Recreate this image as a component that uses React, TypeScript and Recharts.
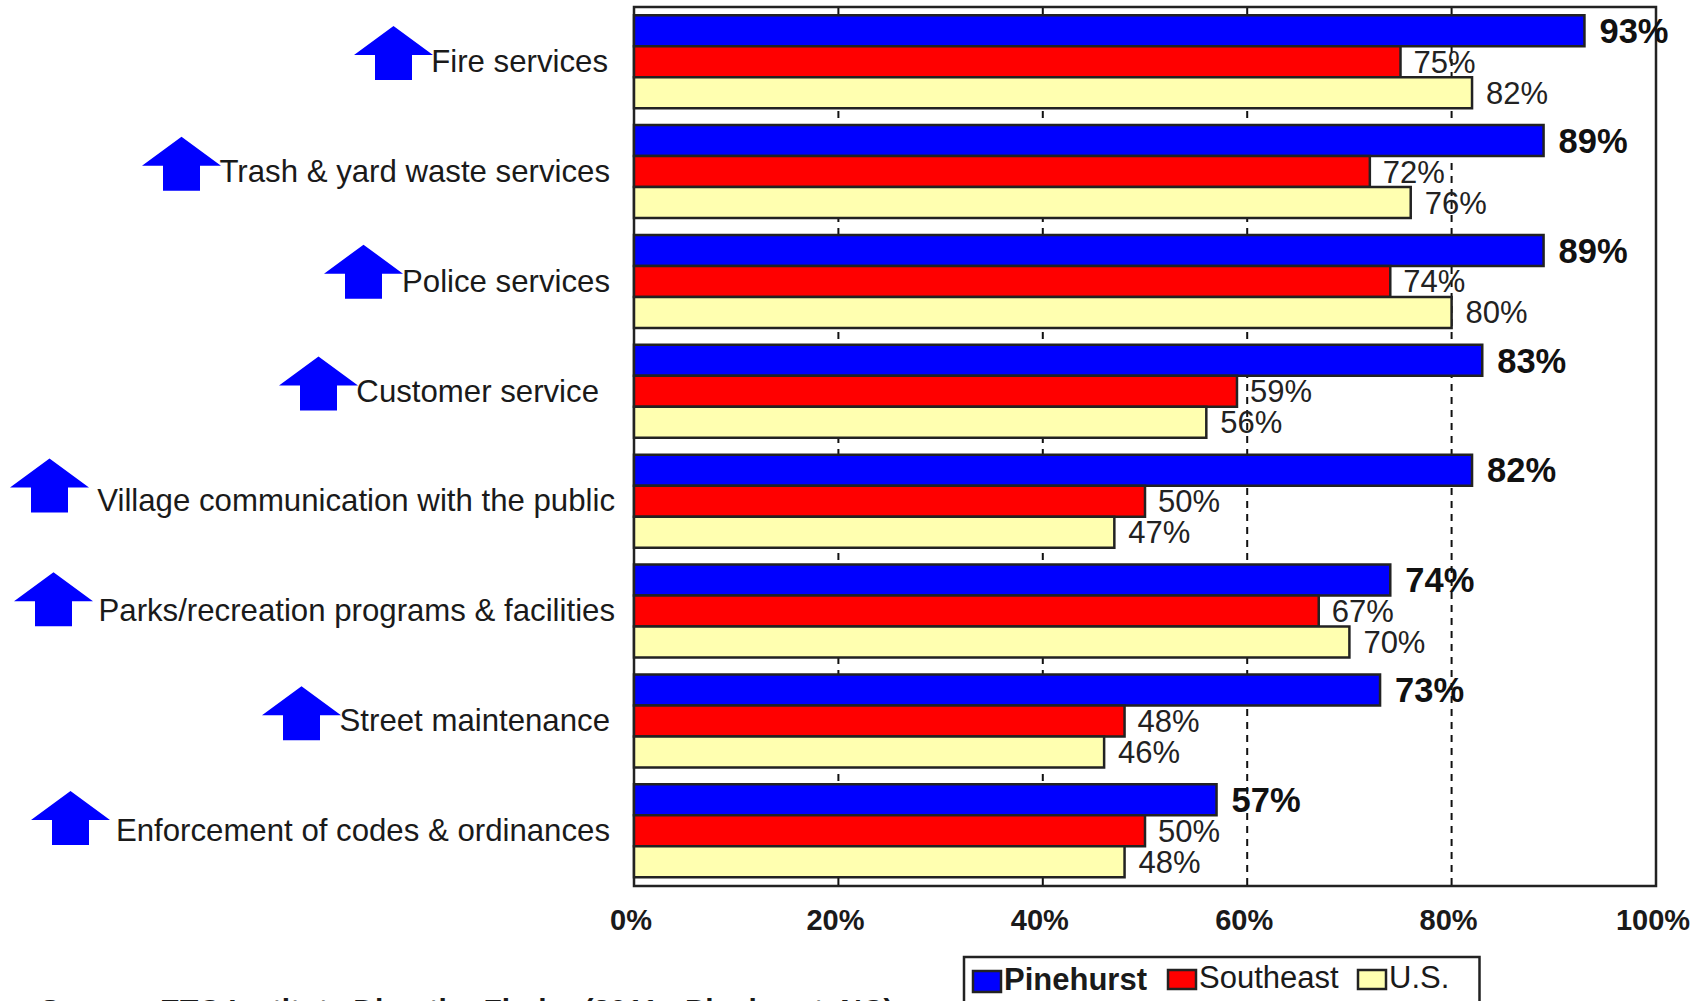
import React from 'react';
import { BarChart, Bar, XAxis, YAxis, CartesianGrid, LabelList, Customized, ReferenceArea } from 'recharts';

const categories = ['Fire services', 'Trash & yard waste services', 'Police services', 'Customer service', 'Village communication with the public', 'Parks/recreation programs & facilities', 'Street maintenance', 'Enforcement of codes & ordinances'];
const pinehurst = [93, 89, 89, 83, 82, 74, 73, 57];
const southeast = [75, 72, 74, 59, 50, 67, 48, 50];
const us = [82, 76, 80, 56, 47, 70, 46, 48];
const xTicks = [0, 20, 40, 60, 80, 100];

const data = categories.map((name, i) => ({ name, pinehurst: pinehurst[i], southeast: southeast[i], us: us[i] }));

// layout of the hand-placed category labels: text right edge, arrow left edge, arrow offset from band centre
const labelRight = [608, 610, 610, 599, 615, 615, 610, 610];
const arrowLeft = [354, 142, 324, 279, 10, 14, 262, 31];
const arrowTop = [-36, -35, -37, -35, -43, -39, -35, -40];
const FONT = '"Liberation Sans", Arial, sans-serif';

const CatTick = (props: any) => {
  const { y, index, payload } = props;
  const ax = arrowLeft[index];
  const ay = y + arrowTop[index];
  const d = `M${ax} ${ay + 29} L${ax + 39.5} ${ay} L${ax + 79} ${ay + 29} L${ax + 58} ${ay + 29} L${ax + 58} ${ay + 54} L${ax + 21} ${ay + 54} L${ax + 21} ${ay + 29} Z`;
  return (
    <g>
      <path d={d} fill="#0000ff" />
      <text x={labelRight[index]} y={y + 10} textAnchor="end" fontFamily={FONT} fontSize={31.2} fill="#1a1a1a">
        {payload.value}
      </text>
    </g>
  );
};

const LegendBox = () => {
  const items = [
    { x: 973, y: 971, h: 21, w: 28, by: 990, label: 'Pinehurst', fill: '#0000ff', bold: true, tx: 1004 },
    { x: 1168, y: 970, h: 19, w: 28, by: 988, label: 'Southeast', fill: '#ff0000', bold: false, tx: 1199 },
    { x: 1358, y: 970, h: 19, w: 28, by: 988, label: 'U.S.', fill: '#ffffb0', bold: false, tx: 1389 },
  ];
  return (
    <g>
      <rect x={964} y={957} width={515.5} height={60} fill="#fff" stroke="#222" strokeWidth={2.5} />
      {items.map((it) => (
        <g key={it.label}>
          <rect x={it.x} y={it.y} width={it.w} height={it.h} fill={it.fill} stroke="#222" strokeWidth={2.5} />
          <text x={it.tx} y={it.by} fontFamily={FONT} fontSize={31} fontWeight={it.bold ? 700 : 400} fill="#1a1a1a">{it.label}</text>
        </g>
      ))}
      <text x={40} y={1020} fontFamily={FONT} fontSize={30} fontWeight={700} fill="#1a1a1a">Source: ETC Institute DirectionFinder (2011 - Pinehurst, NC)</text>
    </g>
  );
};

const pct = (v: any) => `${v}%`;

export default function App() {
  return (
    <div style={{ position: 'absolute', left: 0, top: 0, width: 1704, height: 1001, overflow: 'hidden', background: '#fff' }}>
      <BarChart width={1704} height={1001} data={data} layout="vertical" margin={{ top: 7, right: 48, bottom: 85, left: 0 }} barCategoryGap="7.5%" barGap={0}>
        <CartesianGrid horizontal={false} stroke="#111" strokeWidth={2} strokeDasharray="7 6" />
        <XAxis type="number" domain={[0, 100]} ticks={xTicks} tickFormatter={pct} axisLine={false} tickLine={false} interval={0} tick={{ fontFamily: FONT, fontSize: 29, fontWeight: 700, fill: '#1a1a1a', dx: -3 }} tickMargin={17} />
        <YAxis type="category" dataKey="name" width={634} axisLine={false} tickLine={false} interval={0} tick={<CatTick />} />
        <ReferenceArea x1={0} x2={100} fill="none" stroke="#222" strokeWidth={2.5} />
        <Bar dataKey="pinehurst" fill="#0000ff" stroke="#222" strokeWidth={2.5} isAnimationActive={false}>
          <LabelList dataKey="pinehurst" position="right" offset={15} formatter={pct} style={{ fontFamily: FONT, fontSize: 34.5, fontWeight: 700, fill: '#111' }} />
        </Bar>
        <Bar dataKey="southeast" fill="#ff0000" stroke="#222" strokeWidth={2.5} isAnimationActive={false}>
          <LabelList dataKey="southeast" position="right" offset={13} formatter={pct} style={{ fontFamily: FONT, fontSize: 31, fill: '#222' }} />
        </Bar>
        <Bar dataKey="us" fill="#ffffb0" stroke="#222" strokeWidth={2.5} isAnimationActive={false}>
          <LabelList dataKey="us" position="right" offset={14} formatter={pct} style={{ fontFamily: FONT, fontSize: 31, fill: '#222' }} />
        </Bar>
        <Customized component={LegendBox} />
      </BarChart>
    </div>
  );
}
